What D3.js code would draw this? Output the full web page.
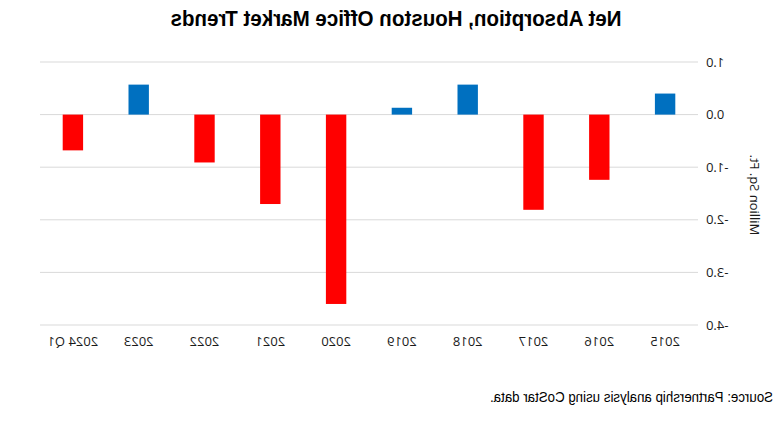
<!DOCTYPE html>
<html><head><meta charset="utf-8">
<script src="https://cdn.jsdelivr.net/npm/d3@7"></script>
<style>body{margin:0;background:#fff}svg{display:block}</style>
</head><body>
<script>
const categories = ["2015","2016","2017","2018","2019","2020","2021","2022","2023","2024 Q1"];
const values = [0.40, -1.24, -1.81, 0.57, 0.13, -3.60, -1.70, -0.91, 0.57, -0.68];
const yTicks = [1.0, 0.0, -1.0, -2.0, -3.0, -4.0];
const title = "Net Absorption, Houston Office Market Trends";
const yTitle = "Million Sq. Ft.";
const source = "Source: Partnership analysis using CoStar data.";

const W = 783, H = 423;
const svg = d3.select("body").append("svg").attr("width", W).attr("height", H);
// reference picture is mirrored horizontally
const g = svg.append("g").attr("transform", `translate(${W},0) scale(-1,1)`);

const x = d3.scaleBand().domain(categories).range([85, 743]).paddingInner(0.69).paddingOuter(0.345);
const y = d3.scaleLinear().domain([-4, 1]).range([325, 62]);

g.append("g").selectAll("line").data(yTicks).join("line")
  .attr("x1", 85).attr("x2", 743)
  .attr("y1", d => y(d)).attr("y2", d => y(d))
  .attr("stroke", "#d9d9d9").attr("stroke-width", 1);

const fmt = d3.format(".1f");
const yAxis = d3.axisLeft(y).tickValues(yTicks).tickFormat(d => fmt(d).replace("\u2212", "-")).tickSize(0).tickPadding(8);
const ya = g.append("g").attr("transform", "translate(85,0)").call(yAxis);
ya.select(".domain").remove();
ya.selectAll("text").attr("font-family", "'Open Sans', sans-serif").attr("font-size", 13).attr("fill", "#1a1a1a");

g.append("g").selectAll("rect").data(values).join("rect")
  .attr("x", (d, i) => x(categories[i]))
  .attr("width", x.bandwidth())
  .attr("y", d => y(Math.max(0, d)))
  .attr("height", d => Math.abs(y(d) - y(0)))
  .attr("fill", d => d >= 0 ? "#0070c0" : "#ff0000");

const xAxis = d3.axisBottom(x).tickSize(0).tickPadding(12);
const xa = g.append("g").attr("transform", "translate(0,325)").call(xAxis);
xa.select(".domain").remove();
xa.selectAll("text").attr("font-family", "'Open Sans', sans-serif").attr("font-size", 13).attr("fill", "#1a1a1a");

g.append("text").attr("x", 387).attr("y", 26).attr("text-anchor", "middle")
  .attr("font-family", "'Liberation Sans', Arial, sans-serif").attr("font-weight", "bold").attr("font-size", 22)
  .attr("textLength", 451).attr("lengthAdjust", "spacingAndGlyphs")
  .text(title);

g.append("text").attr("transform", "translate(33,195) rotate(-90)").attr("text-anchor", "middle")
  .attr("font-family", "'Open Sans', sans-serif").attr("font-size", 13).attr("fill", "#1a1a1a")
  .text(yTitle);

g.append("text").attr("x", 10).attr("y", 402)
  .attr("font-family", "'Liberation Sans', Arial, sans-serif").attr("font-size", 14)
  .attr("textLength", 283).attr("lengthAdjust", "spacingAndGlyphs")
  .text(source);
</script>
</body></html>
